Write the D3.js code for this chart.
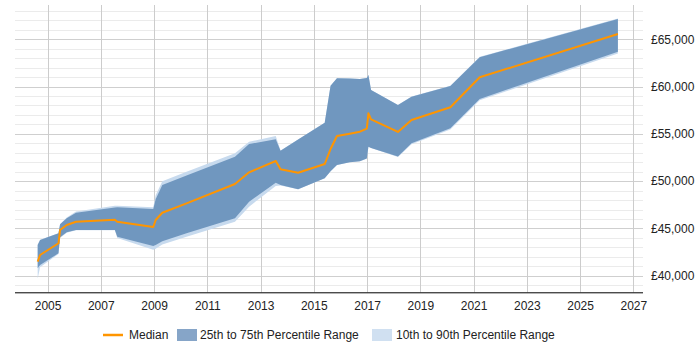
<!DOCTYPE html>
<html>
<head>
<meta charset="utf-8">
<script src="https://cdn.jsdelivr.net/npm/d3@7"></script>
<style>
  html, body { margin: 0; padding: 0; background: #fff; }
  svg { display: block; font-family: "Liberation Sans", Arial, sans-serif; }
</style>
</head>
<body>
<svg id="chart" width="700" height="350"></svg>
<script>
// ---- data (decimal years, GBP) ----
const years = [2004.63, 2004.72, 2005.41, 2005.47, 2005.72, 2006.07, 2007.53, 2007.62, 2008.97, 2009.06,
  2009.31, 2010.22, 2012.04, 2012.57, 2013.57, 2013.75, 2014.41, 2015.41, 2015.63, 2015.87,
  2016.35, 2016.73, 2016.99, 2017.05, 2017.15, 2018.16, 2018.67, 2020.13, 2021.23, 2026.42];
const p10 = [39700, 40900, 42300, 44000, 44550, 44800, 44800, 44000, 42750, 42850,
  43300, 44120, 45710, 47300, 49490, 49550, 49140, 50300, 51050, 51700,
  51990, 52100, 52400, 53640, 53500, 52550, 53900, 55450, 58550, 63500];
const p25 = [40780, 41130, 42370, 44060, 44590, 44830, 44830, 44120, 43140, 43250,
  43650, 44480, 46070, 47830, 49830, 49590, 49140, 50300, 51050, 51700,
  51990, 52100, 52400, 53640, 53500, 52600, 54000, 55590, 58690, 63690];
const median = [41480, 42190, 43430, 44830, 45360, 45710, 45920, 45710, 45150, 45890,
  46660, 47650, 49700, 50930, 52130, 51250, 50890, 51810, 53400, 54770,
  55020, 55230, 55550, 57170, 56540, 55200, 56460, 57810, 60980, 65560];
const p75 = [43250, 43780, 44480, 45430, 46070, 46660, 47200, 47230, 47050, 48080,
  49600, 50600, 52580, 53930, 54420, 53220, 54400, 56180, 60100, 60880,
  60850, 60800, 60900, 61220, 59640, 58050, 58930, 60060, 63100, 67150];
const p90 = [43300, 43800, 44500, 45450, 46150, 46800, 47400, 47400, 47250, 48500,
  50000, 51000, 52940, 54170, 54770, 53250, 54400, 56180, 60100, 60880,
  60850, 60800, 60900, 61220, 59640, 58050, 58950, 60100, 63150, 67200];
const yTicks = [40000, 45000, 50000, 55000, 60000, 65000];
const xTickYears = [2005, 2007, 2009, 2011, 2013, 2015, 2017, 2019, 2021, 2023, 2025, 2027];
const legendLabels = ["Median", "25th to 75th Percentile Range", "10th to 90th Percentile Range"];

// ---- helpers ----
function toDate(y) {
  const yr = Math.floor(y);
  const start = new Date(yr, 0, 1).getTime();
  const end = new Date(yr + 1, 0, 1).getTime();
  return new Date(start + (y - yr) * (end - start));
}
const rows = years.map((y, i) => ({
  d: toDate(y), p10: p10[i], p25: p25[i], p50: median[i], p75: p75[i], p90: p90[i]
}));

const svg = d3.select("#chart");
const L = 15, R = 643, T = 5, B = 292.3;

const x = d3.scaleTime().domain([toDate(2003.779), toDate(2027.364)]).range([L, R]);
const y = d3.scaleLinear().domain([38245, 68627]).range([B, T]);

// grid
const grid = svg.append("g");
const minor = d3.range(39000, 68001, 1000).filter(v => v % 5000 !== 0);
grid.selectAll("line.minor").data(minor).enter().append("line")
  .attr("x1", L).attr("x2", R)
  .attr("y1", d => Math.round(y(d)) + 0.5).attr("y2", d => Math.round(y(d)) + 0.5)
  .attr("stroke", "#ebebeb").attr("stroke-width", 1);
grid.selectAll("line.major").data(yTicks).enter().append("line")
  .attr("x1", L).attr("x2", R)
  .attr("y1", d => Math.round(y(d)) + 0.5).attr("y2", d => Math.round(y(d)) + 0.5)
  .attr("stroke", "#cfcfcf").attr("stroke-width", 1);
grid.selectAll("line.v").data(xTickYears).enter().append("line")
  .attr("x1", d => Math.round(x(toDate(d))) + 0.5).attr("x2", d => Math.round(x(toDate(d))) + 0.5)
  .attr("y1", T).attr("y2", B)
  .attr("stroke", "#cccccc").attr("stroke-width", 1);

// bands
const area1090 = d3.area().x(d => x(d.d)).y0(d => y(d.p10)).y1(d => y(d.p90));
const area2575 = d3.area().x(d => x(d.d)).y0(d => y(d.p25)).y1(d => y(d.p75));
svg.append("path").datum(rows).attr("d", area1090).attr("fill", "#c7daee");
svg.append("path").datum(rows).attr("d", area2575).attr("fill", "#7097bf");

// median
const line = d3.line().x(d => x(d.d)).y(d => y(d.p50));
svg.append("path").datum(rows).attr("d", line)
  .attr("fill", "none").attr("stroke", "#ff9500").attr("stroke-width", 2)
  .attr("stroke-linejoin", "round");

// x axis
const xAxis = d3.axisBottom(x)
  .tickValues(xTickYears.map(toDate))
  .tickFormat(d3.timeFormat("%Y"))
  .tickSize(0).tickPadding(9);
const gx = svg.append("g").attr("transform", `translate(0,${B})`).call(xAxis);
gx.select(".domain").attr("stroke", "#000").attr("d", `M${L},0.5H${R}`);
gx.selectAll("text").attr("font-size", 12).attr("fill", "#222")
  .attr("font-family", "Liberation Sans, Arial, sans-serif");

// y axis (right)
const yAxis = d3.axisRight(y).tickValues(yTicks)
  .tickFormat(d => "£" + d3.format(",")(d)).tickSize(0).tickPadding(8);
const gy = svg.append("g").attr("transform", `translate(${R},0)`).call(yAxis);
gy.select(".domain").remove();
gy.selectAll("text").attr("font-size", 12).attr("fill", "#222")
  .attr("font-family", "Liberation Sans, Arial, sans-serif");

// legend
const lg = svg.append("g").attr("font-size", 12).attr("fill", "#222");
const ly = 335;
lg.append("line").attr("x1", 103).attr("x2", 123).attr("y1", ly).attr("y2", ly)
  .attr("stroke", "#ff9500").attr("stroke-width", 2.5);
lg.append("text").attr("x", 129).attr("y", ly + 4).text(legendLabels[0]);
lg.append("rect").attr("x", 177).attr("y", ly - 6).attr("width", 20).attr("height", 12).attr("fill", "#86a5c8");
lg.append("text").attr("x", 200).attr("y", ly + 4).text(legendLabels[1]);
lg.append("rect").attr("x", 372).attr("y", ly - 6).attr("width", 20).attr("height", 12).attr("fill", "#d0e0f1");
lg.append("text").attr("x", 396).attr("y", ly + 4).text(legendLabels[2]);
</script>
</body>
</html>
